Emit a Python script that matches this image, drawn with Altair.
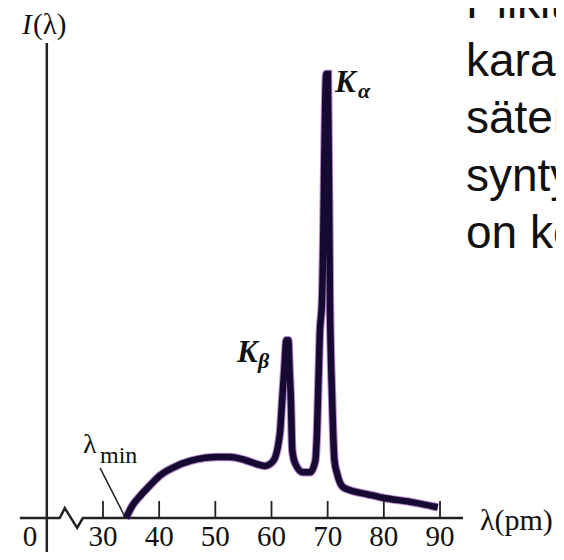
import altair as alt
import pandas as pd

# ---- data ----
wavelength = [34.1, 35.3, 36.6, 38.4, 40.1, 42.8, 45.5, 48.2, 50.3, 52.6, 55.3, 57.4,
              58.8, 60.3, 61.5, 61.9, 62.3, 62.65, 63.0, 63.2, 63.45, 63.7, 64.2, 65.6,
              66.9, 67.8, 68.1, 68.6, 69.0, 69.75, 70.05, 70.4, 70.8, 71.2, 71.7, 72.7,
              74.0, 77.0, 79.8, 84.7, 89.6]
intensity = [0.0, 2.9, 4.9, 7.3, 9.4, 11.4, 12.7, 13.4, 13.6, 13.6, 12.9, 12.0,
             11.6, 12.7, 18.9, 26.3, 33.6, 39.6, 39.6, 33.6, 26.3, 15.1, 12.2, 10.2,
             10.2, 12.7, 18.9, 41.2, 48.6, 98.9, 98.9, 48.6, 26.3, 12.9, 9.8, 6.9,
             6.2, 5.3, 4.5, 3.6, 2.4]
tick_values = [30, 40, 50, 60, 70, 80, 90]
tick_labels = ["30", "40", "50", "60", "70", "80", "90"]
side_text = ["Piikit ovat", "karakteristista", "säteilyä, joka", "syntyy, kun", "on korkeampi"]

# axis geometry (in data units): broken horizontal axis with zig-zag
axis_lam = [15.2, 22.3, 23.2, 25.4, 26.4, 94.1]
axis_int = [0.0, 0.0, 2.2, -2.2, 0.0, 0.0]

X_DOMAIN = [13.09, 110.65]
Y_DOMAIN = [-7.57, 113.59]
xs = alt.Scale(domain=X_DOMAIN, nice=False, zero=False)
ys = alt.Scale(domain=Y_DOMAIN, nice=False, zero=False)

AX = "#222222"
SERIF = "Liberation Serif"

curve_df = pd.DataFrame({"lam": wavelength, "I": intensity, "i": range(len(wavelength))})
ticks_df = pd.DataFrame({"t": tick_values, "label": tick_labels})
axis_df = pd.DataFrame({"lam": axis_lam, "I": axis_int, "i": range(len(axis_lam))})

X = lambda f: alt.X(f, scale=xs, axis=None)
Y = lambda f: alt.Y(f, scale=ys, axis=None)

glow = alt.Chart(curve_df).mark_line(color="#7a2aa8", strokeWidth=8.5, opacity=0.55,
                                     interpolate="monotone", strokeJoin="miter").encode(
    x=X("lam:Q"), y=Y("I:Q"), order="i:Q")
core = alt.Chart(curve_df).mark_line(color="#160a33", strokeWidth=6.5,
                                     interpolate="monotone", strokeJoin="miter").encode(
    x=X("lam:Q"), y=Y("I:Q"), order="i:Q")

xaxis = alt.Chart(axis_df).mark_line(color=AX, strokeWidth=2.5, strokeJoin="miter").encode(
    x=X("lam:Q"), y=Y("I:Q"), order="i:Q")
yaxis = alt.Chart(pd.DataFrame({"lam": [20.0]})).mark_rule(color=AX, strokeWidth=2.5).encode(
    x=X("lam:Q"), y=alt.value(35), y2=alt.value(544))
ticks = alt.Chart(ticks_df).mark_rule(color=AX, strokeWidth=1.8).encode(
    x=X("t:Q"), y=alt.value(493), y2=alt.value(510))
tick_text = alt.Chart(ticks_df).mark_text(font=SERIF, fontSize=29, align="center",
                                          baseline="alphabetic", color="#111").encode(
    x=X("t:Q"), y=alt.value(538), text="label:N")
zero_text = alt.Chart(pd.DataFrame({"lam": [17.0], "label": ["0"]})).mark_text(
    font=SERIF, fontSize=29, align="center", baseline="alphabetic", color="#111").encode(
    x=X("lam:Q"), y=alt.value(538), text="label:N")

leader = alt.Chart(pd.DataFrame({"a": [29.5], "b": [33.9], "c": [11.1], "d": [0.3]})).mark_rule(
    color=AX, strokeWidth=1.5).encode(x=X("a:Q"), x2="b:Q", y=Y("c:Q"), y2="d:Q")


def label(text, x, y, size, font=SERIF, **kw):
    return alt.Chart(pd.DataFrame({"t": [text]})).mark_text(
        align="left", baseline="alphabetic", fontSize=size, font=font, color="#111", **kw
    ).encode(x=alt.value(x), y=alt.value(y), text="t:N")


labels = [
    label("I", 14, 26, 29, fontStyle="italic"),
    label("(λ)", 25, 26, 29),
    label("K", 327, 84, 31, fontStyle="italic", fontWeight="bold"),
    label("α", 350, 90, 22, fontStyle="italic", fontWeight="bold"),
    label("K", 229, 354, 31, fontStyle="italic", fontWeight="bold"),
    label("β", 250, 360, 22, fontStyle="italic", fontWeight="bold"),
    label("λ", 75, 445, 28),
    label("min", 92, 455, 24),
    label("λ(pm)", 472, 522, 30),
]
baselines = [10, 67.5, 125, 182.5, 240]
for line, b in zip(side_text, baselines):
    labels.append(label(line, 458, b, 46, font="Liberation Sans"))

chart = alt.layer(xaxis, yaxis, ticks, tick_text, zero_text, leader, glow, core, *labels).properties(
    width=548, height=544, autosize=alt.AutoSizeParams(type="none"), padding=0
).configure_view(stroke=None)

chart.save("out.html", embed_options={"renderer": "svg", "actions": False})
